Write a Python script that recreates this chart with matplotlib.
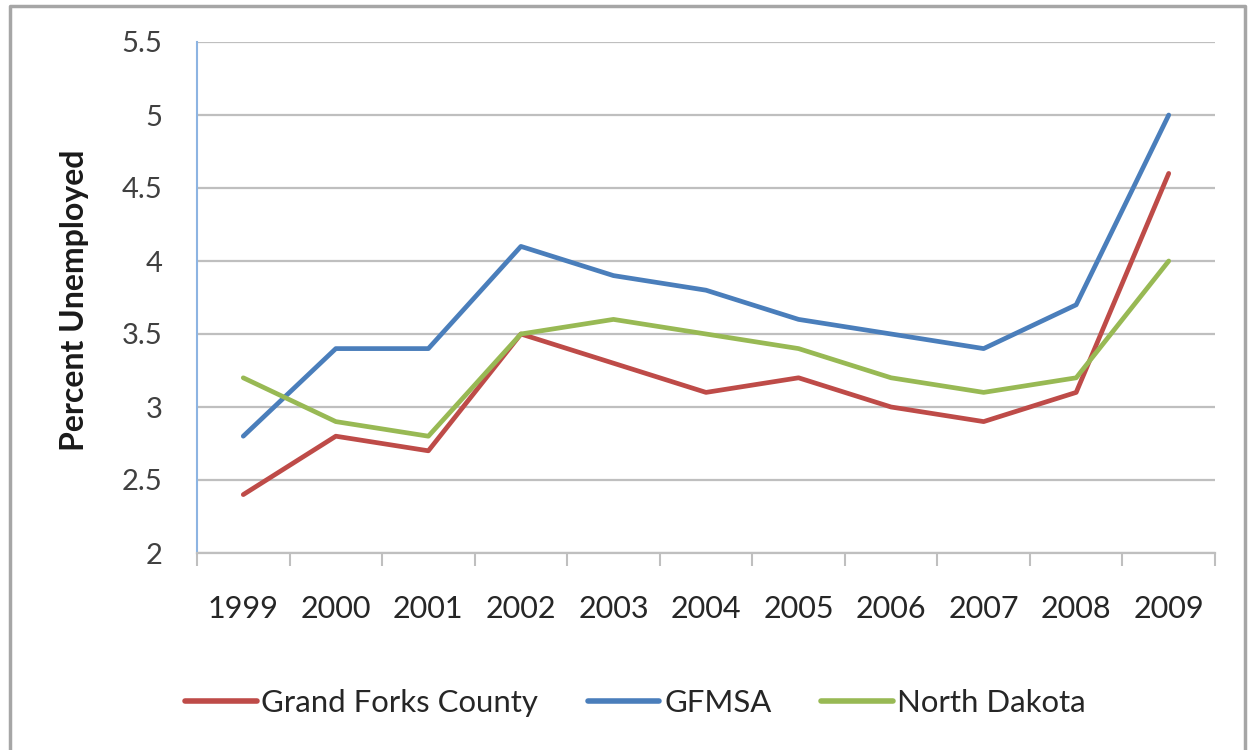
import matplotlib
matplotlib.use("Agg")
import matplotlib.pyplot as plt
from matplotlib.lines import Line2D

years = ["1999", "2000", "2001", "2002", "2003", "2004", "2005", "2006", "2007", "2008", "2009"]
grand_forks = [2.4, 2.8, 2.7, 3.5, 3.3, 3.1, 3.2, 3.0, 2.9, 3.1, 4.6]
gfmsa = [2.8, 3.4, 3.4, 4.1, 3.9, 3.8, 3.6, 3.5, 3.4, 3.7, 5.0]
north_dakota = [3.2, 2.9, 2.8, 3.5, 3.6, 3.5, 3.4, 3.2, 3.1, 3.2, 4.0]
y_ticks = [2, 2.5, 3, 3.5, 4, 4.5, 5, 5.5]
y_tick_labels = ["2", "2.5", "3", "3.5", "4", "4.5", "5", "5.5"]

plt.rcParams['font.family'] = ['Lato', 'DejaVu Sans']

W, H = 1251, 750
fig = plt.figure(figsize=(W / 100, H / 100), dpi=100)
ax = fig.add_axes([197 / W, 1 - 553 / H, (1215 - 197) / W, (553 - 42) / H])

x = list(range(len(years)))
ax.plot(x, grand_forks, color="#BE4B48", lw=3.4, solid_capstyle="round", label="Grand Forks County")
ax.plot(x, gfmsa, color="#4A7EBB", lw=3.4, solid_capstyle="round", label="GFMSA")
ax.plot(x, north_dakota, color="#98B954", lw=3.4, solid_capstyle="round", label="North Dakota")

ax.set_xlim(-0.5, len(years) - 0.5)
ax.set_ylim(2, 5.5)
ax.set_yticks(y_ticks)
ax.set_yticklabels(y_tick_labels, fontsize=21, color="#404040")
ax.yaxis.grid(True, color="#BFBFBF", lw=1.6)
ax.set_axisbelow(True)
ax.tick_params(axis="y", length=0, pad=25)

ax.set_xticks([i - 0.5 for i in range(len(years) + 1)])
ax.set_xticklabels([])
ax.set_xticks(x, minor=True)
ax.set_xticklabels(years, minor=True, fontsize=22, color="#262626")
ax.tick_params(axis="x", which="major", length=9, width=1.5, color="#BFBFBF", direction="out")
ax.tick_params(axis="x", which="minor", length=0, pad=30)

for s in ["top", "right"]:
    ax.spines[s].set_visible(False)
ax.spines["left"].set_color("#8DB4E2")
ax.spines["left"].set_linewidth(1.5)
ax.spines["bottom"].set_color("#BFBFBF")
ax.spines["bottom"].set_linewidth(1.6)

fig.text(75 / W, 1 - 300 / H, "Percent Unemployed", rotation=90, ha="center", va="center",
         fontsize=23, fontweight="bold", color="#1a1a1a")

leg = fig.legend(loc="center", bbox_to_anchor=(0.508, 1 - 703 / H), ncol=3, frameon=False,
                 fontsize=22.4, handlelength=2.3, handletextpad=0.15, columnspacing=1.6,
                 labelcolor="#262626")
for h in leg.legend_handles:
    h.set_linewidth(4)

# figure border (left, top, right)
border = Line2D([10 / W, 10 / W, 1245 / W, 1245 / W], [0, 1 - 6 / H, 1 - 6 / H, 0],
                transform=fig.transFigure, color="#A6A6A6", lw=2.5)
fig.add_artist(border)

fig.savefig("out.png", dpi=100)
